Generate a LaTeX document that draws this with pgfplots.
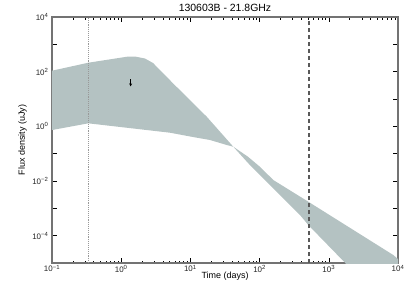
\documentclass[border=0pt]{standalone}
\usepackage{fontspec}
\setmainfont{Liberation Sans}
\usepackage{pgfplots}
\pgfplotsset{compat=1.18}
\usetikzlibrary{arrows.meta}
\definecolor{bandcol}{RGB}{180,194,194}
\definecolor{axgray}{RGB}{115,115,115}
\begin{document}
\begin{tikzpicture}
\path[use as bounding box] (-52bp,-33bp) rectangle (362bp,263bp);
\begin{axis}[
  at={(0,0)}, anchor=south west,
  scale only axis, width=346bp, height=246bp,
  xmode=log, ymode=log,
  xmin=0.1, xmax=1e4, ymin=1e-5, ymax=1e4,
  axis line style={axgray, line width=1.2pt},
  tick align=inside,
  major tick length=5bp, minor tick length=2.5bp,
  every tick/.style={black, line width=0.6pt},
  xtick={0.1,1,10,100,1000,10000},
  xticklabels={10\textsuperscript{−1},10\textsuperscript{0},10\textsuperscript{1},10\textsuperscript{2},10\textsuperscript{3},10\textsuperscript{4}},
  ytick={1e-5,1e-4,1e-3,1e-2,1e-1,1,10,100,1000,10000},
  yticklabels={,10\textsuperscript{−4},,10\textsuperscript{−2},,10\textsuperscript{0},,10\textsuperscript{2},,10\textsuperscript{4}},
  yminorticks=false,
  tick label style={font=\fontsize{8}{9}\selectfont, text=black!85},
  xticklabel style={yshift=1.5bp},
  every axis title shift=0pt,
  title={130603B - 21.8GHz},
  title style={at={(axis description cs:0.5,1.036)}, anchor=center, yshift=0pt, font=\fontsize{10.5}{12}\selectfont},
  xlabel={Time (days)},
  xlabel style={at={(axis description cs:0.5,-0.055)}, anchor=center, font=\fontsize{9}{10}\selectfont},
  ylabel={Flux density (uJy)},
  ylabel style={at={(axis description cs:-0.085,0.5)}, anchor=center, font=\fontsize{9}{10}\selectfont},
]
\addplot[fill=bandcol, draw=none] coordinates {
  (0.1,108.4) (0.335,212.8) (1.213,352.4) (1.637,352.4) (2.208,302) (2.884,207.5)
  (5.61,37.5) (17.22,2.249) (41.69,0.1795) (67.92,0.0773) (101.4,0.0330)
  (157.8,0.01086) (505.8,1.746e-3) (8551,1.959e-5) (10000,1.396e-5)
  (10000,1.05e-7) (1714,1.023e-5) (505.8,2.449e-4) (383.7,5.69e-4)
  (197.2,3.069e-3) (119.7,0.0108) (68.71,0.04436) (41.69,0.1795)
  (33.5,0.2075) (19.19,0.3162) (10.91,0.4064) (5.07,0.5848)
  (0.335,1.288) (0.1,0.7328)
} -- cycle;
\addplot[gray!80, densely dotted, line width=0.9pt] coordinates {(0.335,1e-5) (0.335,1e4)};
\addplot[black!65, dash pattern=on 4bp off 3bp, line width=1.2pt] coordinates {(518,1e-5) (518,1e4)};
\addplot[black, line width=1pt, -{Stealth[length=3bp,width=3bp]}] coordinates {(1.37,52) (1.37,29)};
\end{axis}
\end{tikzpicture}
\end{document}
